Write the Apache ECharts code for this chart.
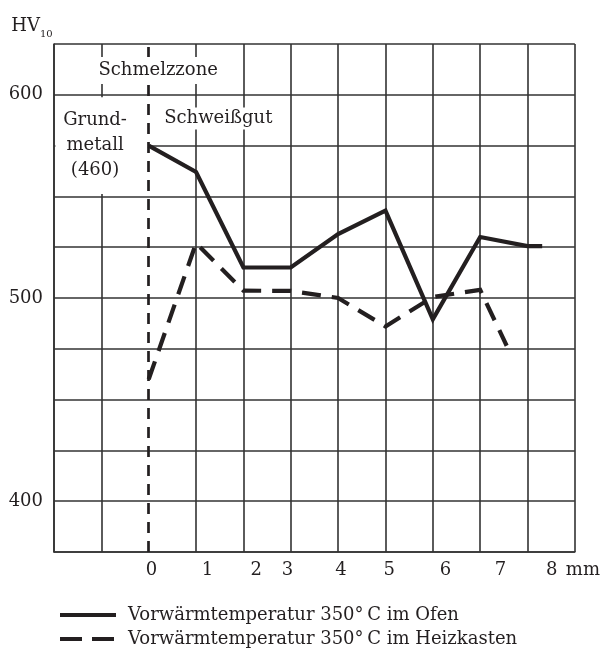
<!DOCTYPE html>
<html>
<head>
<meta charset="utf-8">
<script src="https://cdn.jsdelivr.net/npm/echarts@6/dist/echarts.min.js"></script>
<style>
  html, body { margin: 0; padding: 0; background: #fff; }
  #chart { width: 603px; height: 651px; }
</style>
</head>
<body>
<div id="chart"></div>
<script>
// Härteverlauf HV10 über den Abstand von der Schmelzzone (mm)
const ofenX = [0, 1, 2, 3, 4, 5, 6, 7, 8, 8.31]
const ofenHV = [575, 562, 515, 515, 531.5, 543, 489.5, 530, 525.5, 525.5]
const heizX = [0, 1, 2, 3, 4, 5, 6, 7, 7.56]
const heizHV = [460, 527, 503.6, 503.5, 500, 486, 500.5, 504, 476.5]

// Beschriftung der x-Achse (sitzt im Original nicht genau auf den Gitterlinien)
const xLabelPos = [0.06, 1.24, 2.27, 2.93, 4.06, 5.08, 6.27, 7.43, 8.51]
const xLabels = ['0', '1', '2', '3', '4', '5', '6', '7', '8']
const yLabels = [400, 500, 600]

const seriesNames = [
  'Vorwärmtemperatur 350°\u2009C im Ofen',
  'Vorwärmtemperatur 350°\u2009C im Heizkasten'
]

const ink = '#231f20'
const gridColor = '#333'
const font = 'DejaVu Serif'

const toPoints = (xs, ys) => xs.map((x, i) => [x, ys[i]])

const chart = echarts.init(document.getElementById('chart'), null, { renderer: 'canvas' })

// Gitterlinie bei x = 0 unsichtbar, dort liegt die gestrichelte Schmelzlinie
const xSplitColors = []
for (let v = -2; v <= 9; v++) {
  xSplitColors.push(v === 0 ? 'rgba(0,0,0,0)' : gridColor)
}

const option = {
  animation: false,
  backgroundColor: '#fff',
  textStyle: { fontFamily: font, color: ink },
  grid: {
    left: 54,
    right: 28,
    top: 44,
    bottom: 99
  },
  legend: {
    orient: 'vertical',
    left: 58,
    top: 606,
    height: 60,
    padding: 0,
    itemWidth: 56,
    itemHeight: 14,
    itemGap: 6,
    itemStyle: { color: 'rgba(0,0,0,0)', borderWidth: 0 },
    textStyle: {
      fontFamily: font,
      fontSize: 18,
      color: ink,
      lineHeight: 14,
      padding: [0, 0, 0, 7]
    },
    lineStyle: { width: 4 },
    data: [
      { name: seriesNames[0] },
      { name: seriesNames[1], lineStyle: { width: 4, type: [22, 10] } }
    ]
  },
  xAxis: {
    type: 'value',
    min: -2,
    max: 9,
    interval: 1,
    name: 'mm',
    nameLocation: 'end',
    nameGap: -9,
    nameTextStyle: {
      fontFamily: font,
      fontSize: 18,
      color: ink,
      verticalAlign: 'top',
      padding: [9, 0, 0, 0]
    },
    axisLine: { show: true, onZero: false, lineStyle: { color: gridColor, width: 1.6 } },
    axisTick: { show: false },
    splitLine: {
      show: true,
      lineStyle: { color: xSplitColors, width: 1.6 }
    },
    axisLabel: {
      customValues: xLabelPos,
      margin: 9,
      fontFamily: font,
      fontSize: 18,
      color: ink,
      formatter: (v) => {
        const i = xLabelPos.indexOf(v)
        return i >= 0 ? xLabels[i] : ''
      }
    }
  },
  yAxis: {
    type: 'value',
    min: 375,
    max: 625,
    interval: 25,
    name: '{a|HV}{b|10}',
    nameLocation: 'end',
    nameGap: 7,
    nameTextStyle: {
      padding: [0, 44, 0, 0],
      rich: {
        a: { fontFamily: font, fontSize: 18, color: ink, lineHeight: 22, verticalAlign: 'middle' },
        b: { fontFamily: font, fontSize: 10, color: ink, lineHeight: 10, padding: [16, 0, 0, 0], verticalAlign: 'middle' }
      }
    },
    axisLine: { show: true, onZero: false, lineStyle: { color: gridColor, width: 1.6 } },
    axisTick: { show: false },
    splitLine: { show: true, lineStyle: { color: gridColor, width: 1.6 } },
    axisLabel: {
      margin: 11,
      fontFamily: font,
      fontSize: 18,
      color: ink,
      formatter: (v) => (yLabels.indexOf(v) >= 0 ? String(v) : '')
    }
  },
  series: [
    {
      // Beschriftungsfelder: Grundmetall, Schmelzzone, Schweißgut
      name: 'zonen',
      type: 'line',
      data: [],
      z: 3,
      silent: true,
      markArea: {
        silent: true,
        itemStyle: { color: '#fff' },
        label: {
          show: true,
          position: 'inside',
          offset: [-7, 0],
          fontFamily: font,
          fontSize: 18,
          lineHeight: 25,
          color: ink,
          align: 'center',
          formatter: 'Grund-\nmetall\n(460)'
        },
        data: [[{ xAxis: -1.97, yAxis: 551.2 }, { xAxis: 0, yAxis: 598.8 }]]
      },
      markPoint: {
        silent: true,
        symbol: 'rect',
        itemStyle: { color: '#fff' },
        label: {
          show: true,
          position: 'inside',
          fontFamily: font,
          fontSize: 18,
          color: ink,
          formatter: '{b}'
        },
        data: [
          { name: 'Schmelzzone', coord: [0.2, 612], symbolSize: [134, 27] },
          { name: 'Schweißgut', coord: [1.47, 588.3], symbolSize: [125, 22] }
        ]
      }
    },
    {
      name: 'schmelzlinie',
      type: 'line',
      data: [],
      z: 4,
      silent: true,
      markLine: {
        silent: true,
        symbol: 'none',
        label: { show: false },
        lineStyle: { color: ink, width: 2.7, type: [11, 8] },
        data: [{ xAxis: 0 }]
      }
    },
    {
      name: seriesNames[0],
      type: 'line',
      z: 5,
      symbol: 'none',
      lineStyle: { color: ink, width: 4.2, join: 'miter', cap: 'butt' },
      itemStyle: { color: ink },
      data: toPoints(ofenX, ofenHV)
    },
    {
      name: seriesNames[1],
      type: 'line',
      z: 5,
      symbol: 'none',
      lineStyle: { color: ink, width: 4.2, type: [19, 11], join: 'miter', cap: 'butt' },
      itemStyle: { color: ink },
      data: toPoints(heizX, heizHV)
    }
  ]
}

chart.setOption(option)
</script>
</body>
</html>
